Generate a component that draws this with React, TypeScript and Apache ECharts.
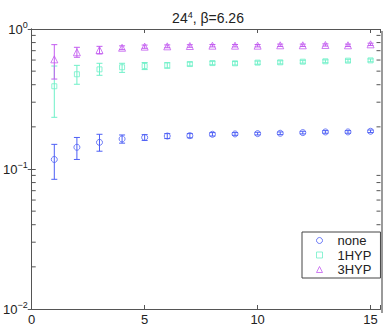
import React, { useEffect, useRef } from 'react';
import * as echarts from 'echarts';

const xValues = [1, 2, 3, 4, 5, 6, 7, 8, 9, 10, 11, 12, 13, 14, 15];

const noneMean = [0.117, 0.143, 0.155, 0.164, 0.168, 0.172, 0.173, 0.177, 0.178, 0.179, 0.180, 0.182, 0.184, 0.184, 0.186];
const noneLow = [0.0844, 0.117, 0.134, 0.153, 0.160, 0.165, 0.167, 0.172, 0.174, 0.175, 0.176, 0.178, 0.180, 0.180, 0.182];
const noneHigh = [0.150, 0.168, 0.177, 0.175, 0.176, 0.179, 0.179, 0.182, 0.182, 0.183, 0.184, 0.186, 0.188, 0.188, 0.190];

const hyp1Mean = [0.390, 0.475, 0.515, 0.533, 0.544, 0.550, 0.562, 0.571, 0.569, 0.575, 0.578, 0.584, 0.588, 0.594, 0.597];
const hyp1Low = [0.234, 0.403, 0.467, 0.490, 0.513, 0.525, 0.545, 0.555, 0.553, 0.560, 0.563, 0.570, 0.574, 0.580, 0.583];
const hyp1High = [0.544, 0.550, 0.569, 0.569, 0.576, 0.575, 0.580, 0.588, 0.585, 0.590, 0.593, 0.598, 0.602, 0.608, 0.611];

const hyp3Mean = [0.607, 0.682, 0.708, 0.735, 0.748, 0.752, 0.756, 0.760, 0.760, 0.760, 0.765, 0.765, 0.769, 0.765, 0.777];
const hyp3Low = [0.439, 0.628, 0.663, 0.712, 0.728, 0.735, 0.740, 0.745, 0.745, 0.745, 0.750, 0.750, 0.755, 0.750, 0.762];
const hyp3High = [0.773, 0.740, 0.752, 0.758, 0.768, 0.770, 0.772, 0.775, 0.775, 0.775, 0.780, 0.780, 0.783, 0.780, 0.792];

const seriesNames = ['none', '1HYP', '3HYP'];
const yMinorTicks = [0.02, 0.03, 0.04, 0.05, 0.06, 0.07, 0.08, 0.09, 0.2, 0.3, 0.4, 0.5, 0.6, 0.7, 0.8, 0.9];

const X_MIN = 0;
const X_MAX = 15.44;
const FONT = '"Liberation Sans", Arial, Helvetica, sans-serif';
const AXIS_COLOR = '#555555';
const TEXT_COLOR = '#222222';

const COLORS = ['#4d5ff5', '#6ff0c8', '#c35cf0'];
const SYMBOLS = ['circle', 'rect', 'triangle'];
const SYMBOL_SIZES = [6, 5, 7];

function errorSeries(name: string, color: string, low: number[], high: number[]) {
  return {
    type: 'custom',
    name: name + '_err',
    xAxisIndex: 0,
    yAxisIndex: 0,
    data: xValues.map((x, i) => [x, low[i], high[i]]),
    encode: { x: 0, y: [1, 2] },
    silent: true,
    z: 2,
    renderItem: (params: any, api: any) => {
      const x = api.value(0);
      const pLo = api.coord([x, api.value(1)]);
      const pHi = api.coord([x, api.value(2)]);
      const w = 3;
      const style = { stroke: color, lineWidth: 1 };
      return {
        type: 'group',
        children: [
          { type: 'line', shape: { x1: pLo[0], y1: pLo[1], x2: pHi[0], y2: pHi[1] }, style },
          { type: 'line', shape: { x1: pLo[0] - w, y1: pLo[1], x2: pLo[0] + w, y2: pLo[1] }, style },
          { type: 'line', shape: { x1: pHi[0] - w, y1: pHi[1], x2: pHi[0] + w, y2: pHi[1] }, style },
        ],
      };
    },
  };
}

function markerSeries(idx: number, values: number[]) {
  return {
    type: 'scatter',
    name: seriesNames[idx],
    xAxisIndex: 0,
    yAxisIndex: 0,
    data: xValues.map((x, i) => [x, values[i]]),
    symbol: SYMBOLS[idx],
    symbolSize: SYMBOL_SIZES[idx],
    itemStyle: { color: 'transparent', borderColor: COLORS[idx], borderWidth: 1 },
    z: 3,
  };
}

function supLabel(v: number) {
  const e = Math.round(Math.log10(v));
  return '{base|10}{sup|' + (e < 0 ? '\u2212' + -e : String(e)) + '}';
}

export default function App() {
  const ref = useRef<HTMLDivElement>(null);
  useEffect(() => {
    if (!ref.current) return;
    const chart = echarts.init(ref.current, null, { renderer: 'svg' });
    const xAxisBase = {
      type: 'value',
      min: X_MIN,
      max: X_MAX,
      interval: 5,
      splitLine: { show: false },
      axisLine: { show: true, lineStyle: { color: AXIS_COLOR, width: 1 } },
      axisTick: { show: true, inside: true, length: 4, lineStyle: { color: AXIS_COLOR } },
    };
    const yAxisBase = {
      type: 'log',
      logBase: 10,
      min: 0.01,
      max: 1,
      splitLine: { show: false },
      axisLine: { show: true, lineStyle: { color: AXIS_COLOR, width: 1 } },
      axisTick: { show: true, inside: true, length: 4, lineStyle: { color: AXIS_COLOR } },
    };
    const option: any = {
      animation: false,
      backgroundColor: '#ffffff',
      textStyle: { fontFamily: FONT },
      title: {
        text: '{base|24}{sup|4}{base|, \u03b2=6.26}',
        left: 203,
        textAlign: 'center',
        top: 5,
        textStyle: {
          fontFamily: FONT,
          fontSize: 14,
          fontWeight: 'normal',
          color: TEXT_COLOR,
          rich: {
            base: { fontSize: 14, fontFamily: FONT, color: TEXT_COLOR },
            sup: { fontSize: 9, fontFamily: FONT, color: TEXT_COLOR, padding: [0, 0, 7, 0] },
          },
        },
      },
      grid: { left: 26.5, right: 4.5, top: 29, bottom: 18, containLabel: false },
      legend: {
        orient: 'vertical',
        left: 302,
        top: 232,
        padding: [2, 9, 2, 14],
        itemGap: 1.5,
        itemWidth: 6,
        itemHeight: 6,
        backgroundColor: '#ffffff',
        borderColor: '#444444',
        borderWidth: 1,
        borderRadius: 0,
        textStyle: { fontFamily: FONT, fontSize: 13, color: TEXT_COLOR, padding: [0, 0, 0, 10] },
        data: seriesNames.map((n, i) => ({
          name: n,
          icon: SYMBOLS[i],
          itemStyle: { color: 'transparent', borderColor: COLORS[i], borderWidth: 1 },
        })),
      },
      xAxis: [
        {
          ...xAxisBase,
          position: 'bottom',
          axisLabel: {
            show: true,
            margin: 4,
            fontSize: 13,
            color: TEXT_COLOR,
            fontFamily: FONT,
            formatter: (v: number) => (Math.abs(v % 5) < 1e-9 ? String(v) : ''),
          },
        },
        { ...xAxisBase, position: 'top', axisLabel: { show: false } },
      ],
      yAxis: [
        {
          ...yAxisBase,
          position: 'left',
          axisLabel: {
            show: true,
            margin: 4,
            fontSize: 13,
            color: TEXT_COLOR,
            fontFamily: FONT,
            formatter: supLabel,
            rich: {
              base: { fontSize: 13, fontFamily: FONT, color: TEXT_COLOR },
              sup: { fontSize: 9, fontFamily: FONT, color: TEXT_COLOR, padding: [0, 0, 8, 0] },
            },
          },
        },
        { ...yAxisBase, position: 'right', axisLabel: { show: false } },
      ],
      graphic: [
        { type: 'rect', shape: { x: 381, y: 31, width: 2, height: 282 }, style: { fill: '#9a9a9a' }, silent: true },
      ],
      series: [
        {
          type: 'custom',
          name: 'minorTicks',
          xAxisIndex: 0,
          yAxisIndex: 0,
          data: yMinorTicks.map((v) => [X_MIN, v]),
          encode: { x: 0, y: 1 },
          silent: true,
          renderItem: (params: any, api: any) => {
            const v = api.value(1);
            const l = api.coord([X_MIN, v]);
            const r = api.coord([X_MAX, v]);
            const style = { stroke: AXIS_COLOR, lineWidth: 1 };
            return {
              type: 'group',
              children: [
                { type: 'line', shape: { x1: l[0], y1: l[1], x2: l[0] + 4, y2: l[1] }, style },
                { type: 'line', shape: { x1: r[0], y1: r[1], x2: r[0] - 4, y2: r[1] }, style },
              ],
            };
          },
        },
        errorSeries('none', COLORS[0], noneLow, noneHigh),
        errorSeries('1HYP', COLORS[1], hyp1Low, hyp1High),
        errorSeries('3HYP', COLORS[2], hyp3Low, hyp3High),
        markerSeries(0, noneMean),
        markerSeries(1, hyp1Mean),
        markerSeries(2, hyp3Mean),
      ],
    };
    chart.setOption(option);
    return () => chart.dispose();
  }, []);
  return <div ref={ref} style={{ width: 385, height: 327, position: 'absolute', left: 0, top: 0 }} />;
}
